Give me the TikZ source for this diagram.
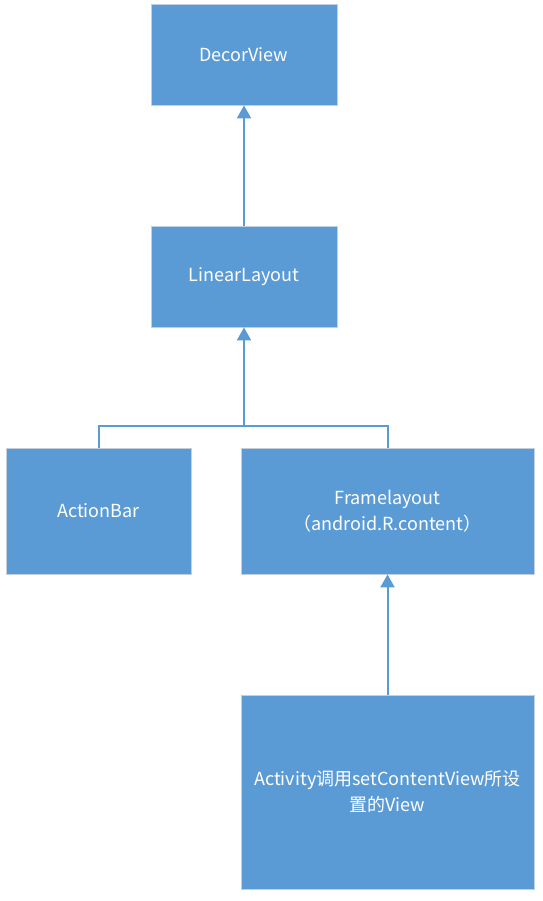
\documentclass[tikz,border=0pt]{standalone}
\usepackage{fontspec}
\setmainfont{Noto Sans CJK SC}
\usetikzlibrary{arrows.meta}
\definecolor{boxblue}{HTML}{5B9BD5}
\definecolor{boxline}{HTML}{C3CFDD}
\tikzset{
	viewbox/.style={draw=boxline, line width=0.8pt, fill=boxblue, text=white, font=\fontsize{18}{26}\selectfont, align=center, inner sep=0pt},
	link/.style={draw=boxblue, line width=2pt},
	uplink/.style={link, -{Triangle[width=14pt,length=13pt]}}
}
\begin{document}
\begin{tikzpicture}[x=1pt,y=-1pt]
		\useasboundingbox (0,0) rectangle (542,901); %page size
		
		\node[viewbox, minimum width=186pt, minimum height=101pt] (decor) at (244,54.5) {DecorView}; %top box
		\node[viewbox, minimum width=186pt, minimum height=101pt] (linear) at (244,276.5) {LinearLayout}; %middle box
		\node[viewbox, minimum width=185pt, minimum height=126pt] (actionbar) at (98.5,511) {ActionBar}; %left box
		\node[viewbox, minimum width=293pt, minimum height=126pt] (frame) at (387.5,511) {Framelayout\\（android.R.content）}; %right box
		\node[viewbox, minimum width=293pt, minimum height=194pt] (activity) at (387.5,792) {Activity调用setContentView所设\\置的View}; %bottom box
		
		\coordinate (split) at (244,426); %branch point
		
		\draw[uplink] (linear) -- (decor);
		\draw[link] (actionbar.north) |- (split) -| (frame.north); %branch line
		\draw[uplink] (split) -- (linear.south);
		\draw[uplink] (activity) -- (frame);
\end{tikzpicture}
\end{document}
